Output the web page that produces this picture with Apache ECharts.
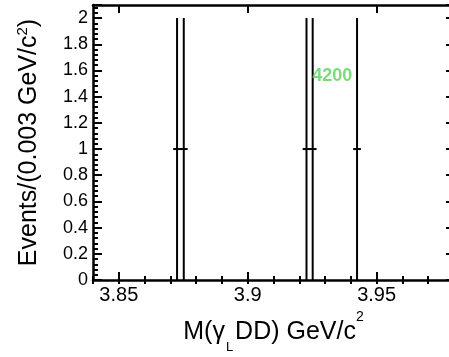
<!DOCTYPE html>
<html>
<head>
<meta charset="utf-8">
<script src="https://cdn.jsdelivr.net/npm/echarts@6/dist/echarts.min.js"></script>
<style>
  html, body { margin: 0; padding: 0; background: #fff; overflow: hidden; }
  #wrap { width: 449px; height: 357px; overflow: hidden; }
  #chart { width: 454px; height: 357px; }
</style>
</head>
<body>
<div id="wrap"><div id="chart"></div></div>
<script>
// Histogram entries: bin centres (GeV/c^2), counts and Poisson errors
const binCenters = [3.8726, 3.8752, 3.9228, 3.9252, 3.9424];
const counts = [1, 1, 1, 1, 1];
const errors = [1, 1, 1, 1, 1];
const binWidth = 0.003;

// Axis ranges and labelled ticks
const xRange = [3.84, 3.98];
const yRange = [0, 2.1];
const xMajorTicks = [3.85, 3.9, 3.95];

// Run label
const runLabel = { text: '4200', x: 3.9328, y: 1.555 };

const FONT = 'Liberation Sans, Arial, Helvetica, sans-serif';
const chart = echarts.init(document.getElementById('chart'), null, { renderer: 'canvas' });

const points = binCenters.map((x, i) => [x, counts[i], errors[i]]);

const frameLine = { show: true, onZero: false, lineStyle: { color: '#000', width: 2.5 } };
const tickStyle = { color: '#000', width: 2 };

function xAxisDef(position, major, withLabels) {
  const ax = {
    type: 'value', position: position, min: xRange[0], max: xRange[1],
    splitLine: { show: false },
    axisLine: major ? frameLine : { show: false },
    axisTick: { show: true, inside: true, length: major ? 8 : 4, lineStyle: tickStyle },
    axisLabel: { show: false }
  };
  if (major) {
    ax.axisTick.customValues = xMajorTicks;
    ax.axisLabel = withLabels
      ? { show: true, customValues: xMajorTicks, color: '#000', fontFamily: FONT, fontSize: 20, margin: 5 }
      : { show: false };
  } else {
    ax.interval = 0.01;
  }
  return ax;
}

const xAxes = [
  xAxisDef('bottom', true, true),
  xAxisDef('bottom', false, false),
  xAxisDef('top', true, false),
  xAxisDef('top', false, false)
];
xAxes[0].name = 'M(γ{sub|L}DD) GeV/c{sup|2}';
xAxes[0].nameLocation = 'middle';
xAxes[0].nameGap = 27;
xAxes[0].nameTextStyle = {
  color: '#000', fontFamily: FONT, fontSize: 25, lineHeight: 44,
  rich: {
    sub: { fontFamily: FONT, fontSize: 13, color: '#000', verticalAlign: 'bottom', lineHeight: 10, padding: [0, 2, 0, 1] },
    sup: { fontFamily: FONT, fontSize: 14, color: '#000', verticalAlign: 'top', lineHeight: 22 }
  }
};

const yAxes = [
  {
    type: 'value', position: 'left', min: yRange[0], max: yRange[1], interval: 0.2,
    splitLine: { show: false },
    axisLine: frameLine,
    axisTick: { show: true, inside: true, length: 9, lineStyle: tickStyle },
    minorTick: { show: true, splitNumber: 5, length: 5, lineStyle: tickStyle },
    axisLabel: { color: '#000', fontFamily: FONT, fontSize: 18, margin: 5, showMaxLabel: false },
    name: 'Events/(0.003 GeV/c{sup|2})',
    nameLocation: 'middle', nameGap: 50,
    nameTextStyle: {
      color: '#000', fontFamily: FONT, fontSize: 25, lineHeight: 28,
      rich: { sup: { fontFamily: FONT, fontSize: 15, color: '#000', verticalAlign: 'top', lineHeight: 14 } }
    }
  },
  {
    type: 'value', position: 'right', min: yRange[0], max: yRange[1], interval: 0.2,
    splitLine: { show: false },
    axisLine: frameLine,
    axisTick: { show: true, inside: true, length: 8, lineStyle: tickStyle },
    axisLabel: { show: false }
  }
];

chart.setOption({
  animation: false,
  backgroundColor: '#fff',
  grid: { left: 93, top: 5, right: 0, bottom: 77, containLabel: false, outerBoundsMode: 'none' },
  xAxis: xAxes,
  yAxis: yAxes,
  series: [
    {
      type: 'custom',
      xAxisIndex: 0, yAxisIndex: 0,
      data: points,
      renderItem: function (params, api) {
        const x = api.value(0), y = api.value(1), e = api.value(2);
        const top = api.coord([x, y + e]);
        const bot = api.coord([x, y - e]);
        const l = api.coord([x - binWidth / 2, y]);
        const r = api.coord([x + binWidth / 2, y]);
        const style = { stroke: '#000', lineWidth: 2 };
        return {
          type: 'group',
          children: [
            { type: 'line', shape: { x1: top[0], y1: top[1], x2: bot[0], y2: bot[1] }, style: style },
            { type: 'line', shape: { x1: l[0], y1: l[1], x2: r[0], y2: r[1] }, style: style }
          ]
        };
      }
    },
    {
      type: 'scatter',
      xAxisIndex: 0, yAxisIndex: 0,
      symbolSize: 1,
      itemStyle: { color: 'rgba(0,0,0,0)' },
      data: [[runLabel.x, runLabel.y]],
      label: {
        show: true, position: 'inside', formatter: runLabel.text,
        color: '#5ad25a', fontFamily: FONT, fontSize: 18, fontWeight: 'bold'
      },
      silent: true
    }
  ]
});
</script>
</body>
</html>
